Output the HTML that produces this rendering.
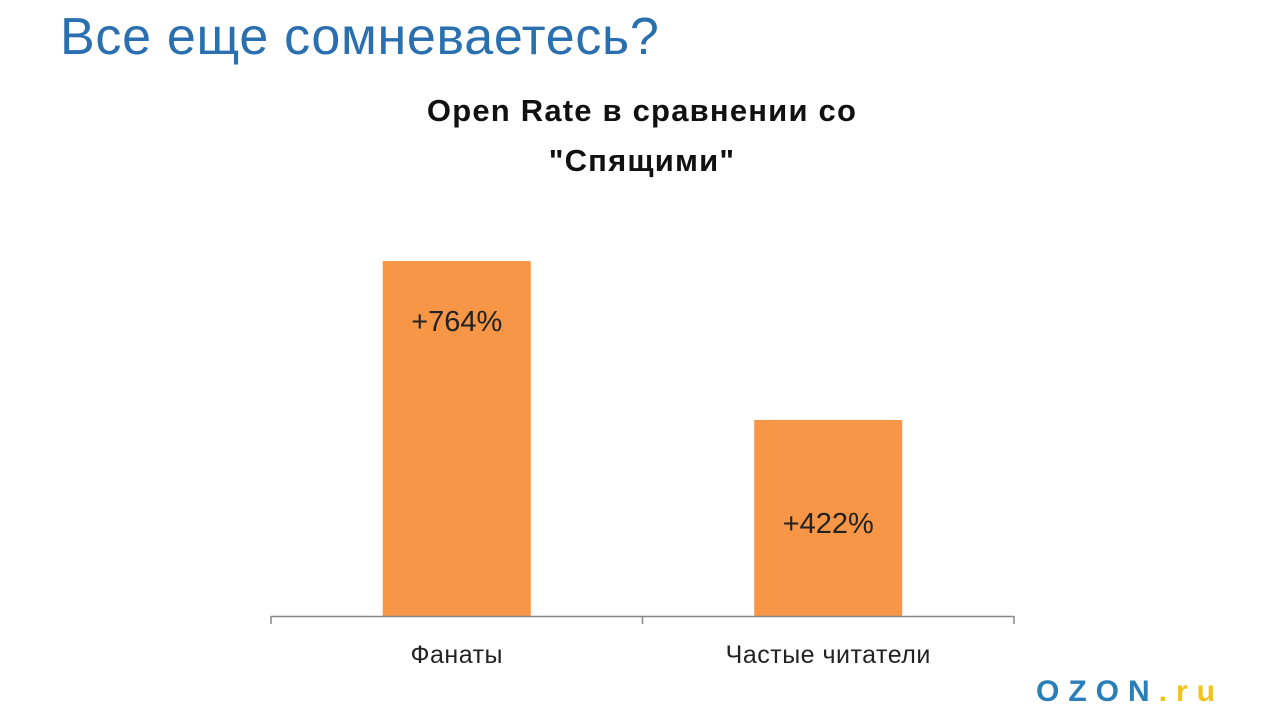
<!DOCTYPE html>
<html><head><meta charset="utf-8"><style>
body{margin:0;width:1280px;height:720px;background:#fff;overflow:hidden;position:relative;font-family:"Liberation Sans","DejaVu Sans",sans-serif}
#title{position:absolute;left:60px;top:7px;font-size:52px;color:#2a6fb0;letter-spacing:0.7px;white-space:nowrap}
#ctitle{position:absolute;left:292px;width:700px;top:86px;text-align:center;font-size:31px;line-height:50px;color:#111;font-weight:bold;letter-spacing:1.2px}
#logo{position:absolute;left:1036px;top:675px;font-size:30px;font-weight:bold;letter-spacing:9px;color:#2a7fb8;font-family:"Liberation Sans",sans-serif;white-space:nowrap}
</style></head><body>
<div id="title">Все еще сомневаетесь?</div>
<div id="ctitle">Open Rate в сравнении со<br>"Спящими"</div>
<svg id="chart" width="1280" height="720" style="position:absolute;left:0;top:0"></svg>
<div id="logo">OZON<span style="color:#f0c419">.ru</span></div>
<script>
const categories=["Фанаты","Частые читатели"];
const values=[764,422];
const valueLabels=["+764%","+422%"];
const labelOffsets=[60,103];
const NS="http://www.w3.org/2000/svg";
const svg=document.getElementById("chart");
const x0=271,x1=1014,base=616,scale=0.4646;
const band=(x1-x0)/categories.length,bw=148;
function y(v){return base-v*scale;}
function mk(t,a){const e=document.createElementNS(NS,t);for(const k in a)e.setAttribute(k,a[k]);svg.appendChild(e);return e;}
categories.forEach((c,i)=>{
 const cx=x0+band*(i+0.5);
 const r=mk("rect",{x:cx-bw/2,y:y(values[i]),width:bw,height:base-y(values[i]),fill:"#f79646"});
 
 
 const t=mk("text",{x:cx,y:y(values[i])+labelOffsets[i]+10,"text-anchor":"middle","font-size":"29","fill":"#222","font-family":"Liberation Sans,sans-serif"});
 t.textContent=valueLabels[i];
 
 
 const l=mk("text",{x:cx,y:663,"text-anchor":"middle","font-size":"25","fill":"#222","font-family":"Liberation Sans,sans-serif","letter-spacing":"0.5"});
 l.textContent=c;
 
 
});
const ax=mk("line",{x1:x0,x2:x1,y1:base+0.5,y2:base+0.5,stroke:"#888","stroke-width":1.5});


for(let i=0;i<=categories.length;i++){
 const tx=x0+band*i;
 const tk=mk("line",{x1:tx,x2:tx,y1:base,y2:base+8,stroke:"#888","stroke-width":1.5});
 
 
}
</script>
</body></html>
